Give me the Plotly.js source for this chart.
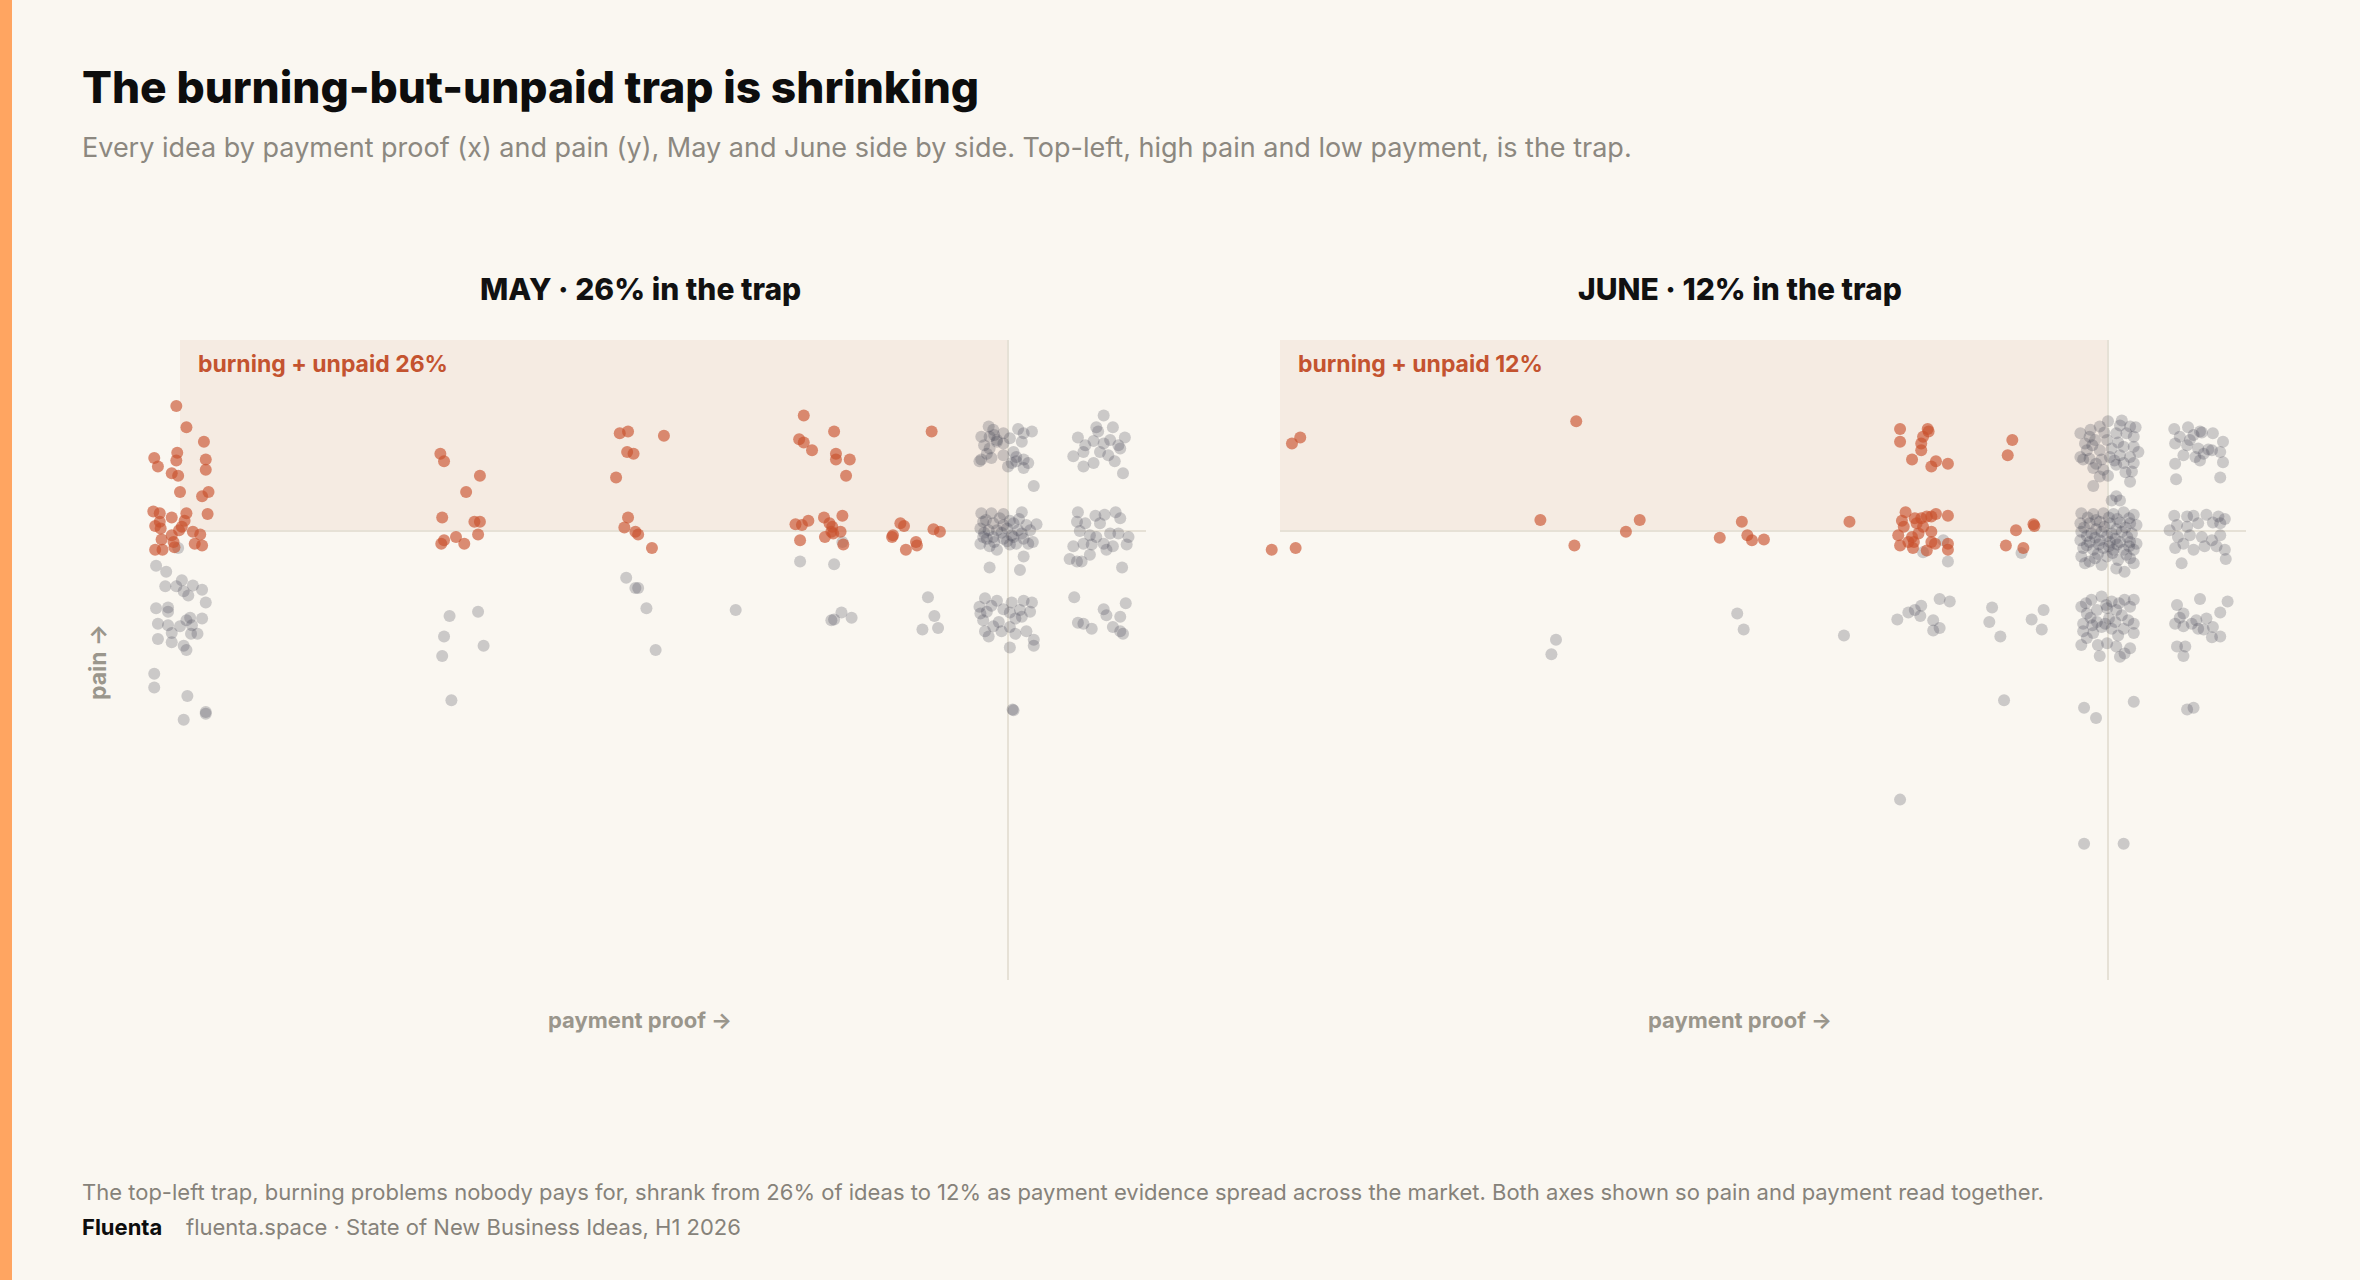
<!DOCTYPE html>
<html><head><meta charset="utf-8">
<script src="https://cdn.plot.ly/plotly-3.0.1.min.js"></script>
<style>html,body{margin:0;padding:0;background:#faf7f1;}#chart{width:2360px;height:1280px;}</style>
</head><body><div id="chart"></div>
<script>
// ---- data: payment proof (x, 0-10) and pain (y) per idea, jittered as drawn ----
const panelTitles = ["MAY · 26% in the trap", "JUNE · 12% in the trap"];
const trapLabels = ["burning + unpaid 26%", "burning + unpaid 12%"];
const PAY_THRESHOLD = 9;
const PAIN_THRESHOLD = 7;

const mayTrap = [
 [-0.04,8.47],[0.07,8.22],[0.26,8.05],[-0.28,7.86],[-0.24,7.76],[-0.03,7.92],[-0.04,7.83],[0.28,7.84],[0.28,7.72],[-0.09,7.68],[-0.02,7.65],[0.00,7.46],[0.31,7.46],[0.24,7.41],[0.30,7.20],[-0.29,7.23],[-0.22,7.21],[-0.09,7.16],[0.07,7.21],[-0.22,7.11],[-0.27,7.06],[-0.21,7.03],[0.05,7.12],[0.02,7.05],[-0.01,7.01],[0.14,6.99],[0.22,6.96],[-0.09,6.95],[-0.20,6.90],[-0.07,6.87],[0.16,6.85],[0.24,6.83],[-0.27,6.78],[-0.19,6.78],[-0.06,6.81],
 [2.83,7.91],[2.87,7.82],[3.26,7.65],[3.11,7.46],[2.85,7.16],[3.20,7.11],[3.26,7.11],[3.24,6.96],[2.87,6.89],[2.84,6.85],[3.00,6.93],[3.09,6.85],
 [4.78,8.15],[4.87,8.17],[5.26,8.12],[4.86,7.93],[4.93,7.91],[4.74,7.63],[4.87,7.16],[4.83,7.04],[4.95,6.99],[4.98,6.96],[5.13,6.80],
 [6.78,8.36],[7.11,8.17],[6.73,8.08],[6.78,8.04],[6.87,7.95],[7.13,7.91],[7.13,7.84],[7.28,7.84],[7.24,7.65],[6.69,7.08],[6.76,7.07],[6.83,7.12],[7.00,7.16],[7.20,7.18],[7.06,7.09],[7.09,7.05],[7.08,6.99],[7.01,6.93],[7.18,6.99],[7.10,6.97],[6.74,6.89],[7.21,6.84],
 [8.17,8.17],[7.83,7.09],[7.87,7.06],[7.75,6.95],[7.74,6.93],[8.00,6.87],[8.01,6.83],[7.89,6.78],[8.19,7.02],[8.26,6.99]
];
const mayOther = [
 [-0.26,6.59],[-0.15,6.52],[0.02,6.42],[-0.16,6.35],[-0.04,6.35],[0.14,6.36],[0.24,6.31],[0.04,6.29],[0.09,6.24],[0.28,6.16],[-0.26,6.09],[-0.13,6.10],[-0.13,6.05],[0.11,5.98],[0.24,5.97],[-0.24,5.91],[-0.13,5.89],[0.00,5.88],[0.07,5.95],[0.13,5.89],[-0.09,5.80],[0.12,5.79],[0.19,5.79],[-0.24,5.73],[-0.09,5.69],[0.04,5.65],[0.07,5.60],[-0.02,6.80],[-0.28,5.32],[-0.28,5.16],[0.08,5.06],[0.28,4.87],[0.28,4.85],[0.04,4.78],
 [2.93,6.00],[3.24,6.05],[2.87,5.76],[3.30,5.65],[2.85,5.53],[2.95,5.01],
 [4.85,6.45],[4.95,6.33],[4.98,6.33],[5.07,6.09],[5.17,5.60],[6.04,6.07],
 [6.74,6.64],[7.11,6.61],[7.20,6.87],[7.08,5.95],[7.11,5.96],[7.19,6.04],[7.30,5.98],
 [8.13,6.22],[8.20,6.00],[8.07,5.84],[8.24,5.86],
 [8.79,8.23],[8.84,8.19],[8.71,8.11],[8.80,8.11],[8.88,8.07],[8.95,8.15],[9.11,8.20],[9.17,8.15],[9.26,8.17],[8.74,8.01],[8.80,7.97],[8.95,8.03],[9.15,8.05],[8.77,7.91],[8.71,7.84],[8.69,7.82],[8.95,7.89],[9.06,7.93],[9.09,7.87],[9.17,7.84],[9.22,7.80],[9.00,7.76],[9.17,7.74],[9.28,7.53],[9.09,7.82],[8.88,8.05],
 [8.85,8.13],[9.02,8.09],[8.82,7.86],[9.04,7.80],
 [8.71,7.21],[8.82,7.21],[8.95,7.20],[9.15,7.22],[8.73,7.11],[8.84,7.09],[8.95,7.07],[9.06,7.09],[9.20,7.07],[9.31,7.08],[8.70,7.03],[8.79,7.01],[8.88,7.01],[8.99,7.03],[9.11,7.01],[9.24,7.01],[8.73,6.93],[8.84,6.93],[8.95,6.91],[9.06,6.93],[9.17,6.91],[9.27,6.87],[8.70,6.85],[8.80,6.82],[8.88,6.78],[9.02,6.84],[9.09,6.85],[9.22,6.85],[9.17,6.70],[8.80,6.57],[9.13,6.54],[8.77,6.91],
 [8.76,7.13],[8.91,7.15],[9.02,7.12],[9.12,7.14],[8.93,6.98],[9.04,6.95],[9.15,6.97],[8.85,6.87],[8.99,6.88],[8.74,6.98],
 [8.75,6.21],[8.88,6.18],[9.04,6.16],[9.17,6.18],[9.26,6.16],[8.70,6.03],[8.77,6.05],[9.02,6.04],[9.13,6.07],[9.24,6.05],[8.73,5.95],[8.84,5.88],[9.02,5.87],[9.15,5.99],[8.75,5.82],[8.79,5.76],[8.93,5.82],[9.08,5.79],[9.20,5.82],[9.28,5.72],[9.02,5.63],[9.28,5.65],[8.69,6.11],[9.05,4.90],[9.06,4.89],
 [8.82,6.12],[8.95,6.08],[9.08,5.97],[8.90,5.93],
 [10.04,8.36],[9.96,8.22],[10.14,8.22],[9.76,8.10],[10.27,8.10],[9.84,8.01],[9.93,8.06],[10.04,8.03],[10.11,8.07],[10.20,8.01],[9.71,7.88],[9.82,7.93],[10.00,7.93],[10.09,7.89],[10.16,7.82],[9.93,7.80],[9.82,7.76],[10.22,7.97],[10.25,7.68],[9.98,8.17],
 [9.76,7.22],[9.95,7.18],[10.05,7.19],[10.17,7.22],[10.22,7.15],[9.75,7.11],[9.84,7.09],[10.00,7.09],[9.78,7.00],[9.89,6.95],[9.96,6.93],[10.11,6.97],[10.20,6.97],[10.31,6.93],[9.71,6.82],[9.82,6.85],[9.91,6.84],[10.04,6.85],[10.14,6.82],[10.29,6.84],[9.67,6.67],[9.75,6.64],[9.80,6.64],[9.89,6.72],[10.24,6.57],[10.07,6.78],
 [9.72,6.22],[10.04,6.08],[10.28,6.15],[10.07,6.01],[10.22,5.99],[9.76,5.92],[9.82,5.91],[9.91,5.85],[10.14,5.87],[10.22,5.82],[10.25,5.79]
];
const juneTrap = [
 [0.13,8.03],[0.22,8.10],[-0.09,6.78],[0.17,6.80],
 [3.22,8.29],[2.83,7.13],[3.20,6.83],[3.76,6.99],[3.91,7.13],
 [5.02,7.11],[4.78,6.92],[5.08,6.95],[5.13,6.89],[5.26,6.90],
 [6.19,7.11],
 [6.74,8.20],[7.04,8.20],[7.05,8.17],[6.74,8.05],[6.99,8.11],[6.97,8.03],[6.97,7.95],[6.87,7.84],[7.13,7.82],[7.08,7.76],[7.26,7.79],
 [6.80,7.22],[6.76,7.12],[6.90,7.15],[6.97,7.15],[7.03,7.17],[7.08,7.17],[7.13,7.20],[7.26,7.18],[6.78,7.05],[6.92,7.09],[6.99,7.05],[7.08,6.99],[6.72,6.95],[6.87,6.93],[6.94,6.97],[6.89,6.87],[7.08,6.87],[7.12,6.85],[6.74,6.83],[6.88,6.80],[7.03,6.77],[7.26,6.85],[7.26,6.78],[6.83,6.87],
 [7.96,8.07],[7.91,7.89],[8.00,7.01],[8.19,7.08],[8.20,7.06],[7.89,6.83],[8.08,6.80]
];
const juneOther = [
 [3.00,5.72],[2.95,5.55],[4.97,6.03],[5.04,5.84],[6.13,5.77],
 [6.99,6.75],[7.21,6.89],[7.26,6.64],[6.71,5.96],[6.83,6.04],[6.90,6.07],[6.97,6.12],[6.96,6.00],[7.17,6.20],[7.28,6.17],[7.10,5.95],[7.10,5.83],[7.17,5.86],[6.74,3.84],
 [8.06,6.74],[7.74,6.10],[7.71,5.93],[7.83,5.76],[8.17,5.96],[8.30,6.07],[8.28,5.84],[7.87,5.01],
 [8.70,8.15],[8.80,8.11],[8.91,8.23],[9.00,8.29],[9.15,8.30],[9.24,8.23],[9.30,8.22],[8.75,8.03],[8.86,8.07],[8.99,8.07],[9.09,8.15],[9.20,8.15],[9.28,8.11],[8.77,7.95],[8.91,7.95],[9.04,7.97],[9.17,7.99],[9.28,7.99],[8.70,7.87],[8.80,7.85],[8.93,7.84],[9.02,7.87],[9.13,7.89],[9.24,7.87],[9.33,7.93],[8.84,7.74],[8.95,7.72],[9.09,7.78],[9.26,7.70],[8.91,7.64],[9.00,7.65],[9.24,7.58],[8.84,7.53],[8.73,7.84],[9.17,7.80],[9.28,7.80],
 [8.81,8.19],[8.96,8.16],[9.13,8.24],[8.83,8.01],[9.11,8.04],[8.87,7.79],[9.07,7.83],[9.19,7.69],
 [9.09,7.41],[9.13,7.36],[9.04,7.36],
 [8.71,7.21],[8.84,7.20],[8.95,7.21],[9.06,7.20],[9.17,7.22],[9.28,7.19],[8.70,7.09],[8.80,7.09],[8.91,7.11],[9.02,7.09],[9.13,7.10],[9.24,7.09],[9.31,7.07],[8.71,6.99],[8.82,6.97],[8.93,6.99],[9.04,6.97],[9.15,6.99],[9.26,6.97],[8.70,6.89],[8.80,6.87],[8.91,6.89],[9.02,6.87],[9.13,6.87],[9.24,6.87],[9.31,6.85],[8.73,6.80],[8.84,6.78],[8.95,6.80],[9.06,6.78],[9.17,6.78],[9.28,6.78],[8.71,6.70],[8.86,6.68],[8.99,6.70],[9.11,6.66],[9.24,6.68],[8.75,6.62],[8.93,6.60],[9.09,6.56],[9.18,6.52],[9.28,6.62],[8.80,6.64],
 [8.78,7.16],[8.87,7.13],[9.01,7.16],[9.10,7.14],[9.23,7.15],[8.74,7.04],[8.87,7.02],[8.96,7.05],[9.09,7.02],[9.19,7.04],[8.77,6.94],[8.86,6.92],[8.99,6.94],[9.08,6.91],[9.21,6.93],[8.77,6.83],[8.90,6.84],[9.01,6.82],[9.10,6.84],[9.23,6.82],[8.89,6.73],[9.05,6.74],[9.20,6.72],
 [8.71,6.11],[8.82,6.19],[8.93,6.23],[9.04,6.17],[9.18,6.19],[9.28,6.19],[8.77,6.03],[8.88,6.07],[8.99,6.09],[9.09,6.07],[9.24,6.11],[8.73,5.91],[8.88,5.93],[8.97,5.91],[9.08,5.93],[9.22,5.95],[9.28,5.91],[8.73,5.82],[8.84,5.80],[9.04,5.85],[9.17,5.85],[9.28,5.80],[8.71,5.66],[8.89,5.66],[8.99,5.68],[9.09,5.64],[9.24,5.62],[8.91,5.53],[9.13,5.52],[9.18,5.56],[8.77,5.74],
 [8.76,6.15],[8.98,6.13],[9.12,6.15],[8.81,5.98],[9.01,5.97],[9.15,6.01],[8.93,5.87],[9.11,5.77],[8.83,5.89],
 [8.74,4.92],[8.87,4.80],[9.28,4.99],[8.74,3.32],[9.17,3.32],
 [9.72,8.20],[9.87,8.22],[10.00,8.17],[10.14,8.15],[9.78,8.11],[9.93,8.13],[10.02,8.16],[10.25,8.05],[9.73,8.03],[9.86,8.01],[9.98,7.97],[10.09,7.96],[10.22,7.93],[9.82,7.89],[9.95,7.87],[10.04,7.91],[10.13,7.95],[9.73,7.79],[10.00,7.83],[10.25,7.81],[9.74,7.61],[10.22,7.63],[9.89,8.07],
 [9.72,7.18],[9.86,7.17],[9.93,7.18],[10.07,7.19],[10.20,7.17],[10.27,7.14],[9.75,7.07],[9.86,7.05],[9.98,7.09],[10.14,7.10],[10.22,7.09],[9.76,6.93],[9.89,6.95],[10.02,6.93],[10.13,6.89],[10.22,6.95],[9.73,6.80],[9.82,6.85],[9.93,6.78],[10.05,6.82],[10.18,6.82],[10.27,6.78],[9.80,6.62],[10.28,6.67],[9.67,7.01],
 [9.75,6.13],[10.00,6.20],[10.30,6.17],[9.82,6.03],[9.73,5.91],[9.82,5.88],[9.96,5.95],[10.07,5.97],[10.22,6.04],[9.98,5.85],[10.04,5.84],[10.14,5.87],[10.13,5.75],[10.22,5.76],[9.75,5.64],[9.84,5.64],[9.82,5.53],[9.78,5.98],[9.91,5.91],
 [9.86,4.90],[9.93,4.92]
];

// ---- page geometry (pixels) ----
const W = 2360, H = 1280;
const PX = v => v / W, PY = v => 1 - v / H;
const XR = [-0.5, 10.5];
const YR = [1.718, 9.247];
const FONT = 'Inter, "Noto Sans", sans-serif';
const BG = '#faf7f1';
const RED = 'rgba(201,80,44,0.64)';
const GREY = 'rgba(62,64,78,0.25)';
const LINE = '#e6e1d6';

function tr(pts, color, xa, ya) {
  return {type:'scatter', mode:'markers', x:pts.map(p=>p[0]), y:pts.map(p=>p[1]),
    xaxis:xa, yaxis:ya, hoverinfo:'skip', showlegend:false,
    marker:{size:12, color:color, line:{width:0}}};
}
const data = [
  tr(mayOther, GREY, 'x', 'y'), tr(mayTrap, RED, 'x', 'y'),
  tr(juneOther, GREY, 'x2', 'y2'), tr(juneTrap, RED, 'x2', 'y2')
];

function panelShapes(xa, ya) {
  return [
    {type:'rect', xref:xa, yref:ya, x0:0, x1:PAY_THRESHOLD, y0:PAIN_THRESHOLD, y1:YR[1], fillcolor:'#f5ebe2', line:{width:0}, layer:'below'},
    {type:'line', xref:xa, yref:ya, x0:0, x1:XR[1], y0:PAIN_THRESHOLD, y1:PAIN_THRESHOLD, line:{color:LINE, width:2}, layer:'below'},
    {type:'line', xref:xa, yref:ya, x0:PAY_THRESHOLD, x1:PAY_THRESHOLD, y0:YR[0], y1:YR[1], line:{color:LINE, width:2}, layer:'below'}
  ];
}
function panelAnnots(i, xa) {
  const xd = xa + ' domain';
  return [
    {xref:xd, yref:'paper', x:0.5, y:PY(289), text:panelTitles[i], showarrow:false, xanchor:'center', yanchor:'middle', font:{family:FONT, size:30, weight:800, color:'#111111'}},
    {xref:xa, yref:'paper', x:0, xshift:16, y:PY(364), text:'<b>'+trapLabels[i]+'</b>', showarrow:false, xanchor:'left', yanchor:'middle', font:{family:FONT, size:23, color:'#c4532f'}},
    {xref:xd, yref:'paper', x:0.5, y:PY(1020), text:'<b>payment proof →</b>', showarrow:false, xanchor:'center', yanchor:'middle', font:{family:FONT, size:22, color:'#9a968c'}}
  ];
}

const axBase = {range:XR, visible:false, showgrid:false, zeroline:false, fixedrange:true};
const ayBase = {range:YR, visible:false, showgrid:false, zeroline:false, fixedrange:true, domain:[PY(980), PY(340)]};

const layout = {
  width:W, height:H, margin:{l:0, r:0, t:0, b:0, pad:0},
  paper_bgcolor:BG, plot_bgcolor:'rgba(0,0,0,0)', showlegend:false,
  xaxis:Object.assign({}, axBase, {domain:[PX(134), PX(1146)], anchor:'y'}),
  yaxis:Object.assign({}, ayBase, {anchor:'x'}),
  xaxis2:Object.assign({}, axBase, {domain:[PX(1234), PX(2246)], anchor:'y2'}),
  yaxis2:Object.assign({}, ayBase, {anchor:'x2'}),
  shapes:[
    {type:'rect', xref:'paper', yref:'paper', x0:0, x1:PX(12), y0:0, y1:1, fillcolor:'#ffa561', line:{width:0}, layer:'below'}
  ].concat(panelShapes('x','y'), panelShapes('x2','y2')),
  annotations:[
    {xref:'paper', yref:'paper', x:PX(80), y:PY(87), text:'The burning-but-unpaid trap is shrinking', showarrow:false, xanchor:'left', yanchor:'middle', font:{family:FONT, size:44.3, weight:800, color:'#0d0d0d'}},
    {xref:'paper', yref:'paper', x:PX(80), y:PY(148), text:'Every idea by payment proof (x) and pain (y), May and June side by side. Top-left, high pain and low payment, is the trap.', showarrow:false, xanchor:'left', yanchor:'middle', font:{family:FONT, size:27, color:'#8c8880'}},
    {xref:'paper', yref:'paper', x:PX(98), y:PY(662), text:'<b>pain →</b>', textangle:-90, showarrow:false, xanchor:'center', yanchor:'middle', font:{family:FONT, size:23, color:'#9a968c'}},
    {xref:'paper', yref:'paper', x:PX(80), y:PY(1192), text:'The top-left trap, burning problems nobody pays for, shrank from 26% of ideas to 12% as payment evidence spread across the market. Both axes shown so pain and payment read together.', showarrow:false, xanchor:'left', yanchor:'middle', font:{family:FONT, size:22, color:'#86827a'}},
    {xref:'paper', yref:'paper', x:PX(80), y:PY(1227), text:'<b>Fluenta</b>', showarrow:false, xanchor:'left', yanchor:'middle', font:{family:FONT, size:22, color:'#0d0d0d'}},
    {xref:'paper', yref:'paper', x:PX(184), y:PY(1227), text:'fluenta.space · State of New Business Ideas, H1 2026', showarrow:false, xanchor:'left', yanchor:'middle', font:{family:FONT, size:22, color:'#86827a'}}
  ].concat(panelAnnots(0,'x'), panelAnnots(1,'x2'))
};

Plotly.newPlot('chart', data, layout, {displayModeBar:false, staticPlot:true});
</script></body></html>
